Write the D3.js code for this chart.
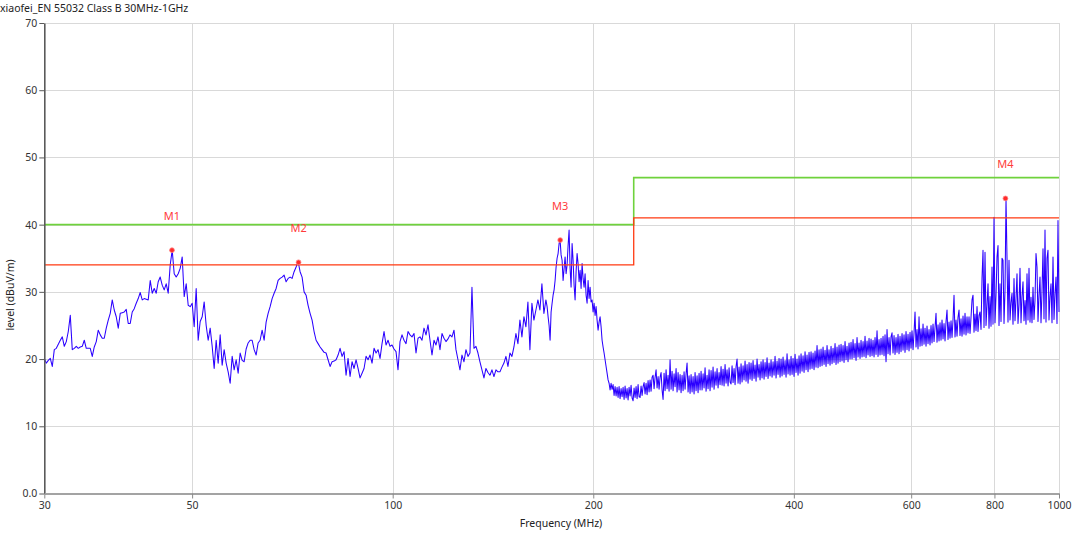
<!DOCTYPE html>
<html><head><meta charset="utf-8">
<script src="https://cdn.jsdelivr.net/npm/d3@7"></script>
<style>
html,body{margin:0;padding:0;background:#fff;}
svg{display:block;}
text{font-family:"Segoe UI","Noto Sans",sans-serif;}
</style></head><body>
<svg id="chart" width="1080" height="534"></svg>
<script>
// ---------------- data ----------------
const chartTitle = "xiaofei_EN 55032 Class B 30MHz-1GHz";
const xAxisTitle = "Frequency (MHz)";
const yAxisTitle = "level (dBuV/m)";
const xTickValues = [30, 50, 100, 200, 400, 600, 800, 1000];
const xTickLabels = ["30", "50", "100", "200", "400", "600", "800", "1000"];
const yTickValues = [0, 10, 20, 30, 40, 50, 60, 70];
const yTickLabels = ["0.0", "10", "20", "30", "40", "50", "60", "70"];

// limit line (EN 55032 Class B, QP) and margin line
const limitFreq = [30, 230, 230, 1000];
const limitLevel = [40, 40, 47, 47];
const marginFreq = [30, 230, 230, 1000];
const marginLevel = [34, 34, 41, 41];

// markers
const markerNames = ["M1", "M2", "M3", "M4"];
const markerFreq = [46.64, 72.23, 178.4, 831.0];
const markerLevel = [36.2, 34.4, 37.7, 43.9];

// measured trace, first sweep part (log spaced points)
const sweepLowStart = 30, sweepLowStop = 169.8;
const levelsLow = [
20.1,19.4,19.8,20.1,18.9,21.4,21.6,22.2,22.8,23.3,
21.9,22.6,24.1,26.5,21.4,21.6,21.9,21.6,21.8,21.9,
22.8,21.6,21.6,21.6,20.4,21.8,22.6,24.3,23.6,23.1,
23.1,24.6,25.8,26.8,28.8,27.3,26.3,24.6,26.8,26.9,
27.0,27.4,25.3,25.3,27.0,27.5,28.3,29.0,29.9,28.8,
29.0,28.9,28.8,31.7,29.8,30.5,29.8,31.5,32.2,31.0,
30.3,31.2,29.8,34.0,36.2,32.7,32.2,32.7,33.5,35.2,
29.3,31.2,28.0,27.8,28.3,24.8,30.5,22.8,25.6,26.3,
28.5,25.0,22.8,24.6,21.9,18.6,22.8,19.4,23.6,19.1,
21.4,19.4,18.1,16.4,20.4,18.4,19.9,17.9,20.9,19.8,
19.6,21.5,22.4,22.8,22.8,21.4,20.6,22.4,22.8,24.3,
22.8,25.5,26.8,27.8,29.0,29.8,30.5,31.7,32.0,32.2,
32.5,31.5,32.0,32.2,32.0,33.0,33.7,34.5,33.0,32.2,
30.0,29.5,28.0,26.8,25.8,24.1,22.8,22.3,21.8,21.4,
21.0,20.9,19.9,18.9,19.6,19.7,19.9,20.6,21.6,20.4,
21.1,17.6,20.1,17.4,19.6,18.6,19.9,18.6,17.2,17.9,
18.6,20.4,19.9,20.6,19.4,21.6,20.9,21.4,20.1,22.3,
24.1,22.1,22.8,21.9,22.1,21.5,21.1,18.4,22.6,23.6,
22.8,22.3,24.1,23.6,23.3,23.8,20.9,23.1,23.3,22.8,
24.6,23.6,25.1,22.8,20.6,22.8,22.1,23.3,21.4,23.8,
23.1,22.6,23.0,23.6,23.3,24.3,21.4,19.9,18.4,20.6,
19.6,21.4,20.4,20.9,30.7,21.6,21.9,20.9,19.6,18.4,
17.2,18.6,18.0,17.6,18.4,17.4,18.4,18.1,18.1,18.8,
19.4,20.4,18.9,20.9,20.4,21.8,23.8,22.3,25.8,23.3,
26.3,24.8,28.5,21.4,28.3,25.8,27.3,28.8,27.3,31.2,
26.8,28.8
];

// measured trace, second sweep part (denser log spaced points)
const sweepHighStart = 170.5, sweepHighStop = 1000;
const levelsHigh = [
27.8,26.3,25.0,22.8,27.0,28.3,29.5,30.3,31.7,33.7,
35.0,35.7,37.2,37.7,35.5,34.7,31.7,33.5,35.2,32.7,
34.0,36.9,39.2,33.5,30.7,37.2,34.7,31.0,28.8,33.0,
35.7,34.2,31.5,33.2,30.5,34.2,32.0,30.7,32.7,29.5,
28.3,31.7,29.0,30.7,28.5,28.8,27.0,28.3,26.5,27.8,
25.8,24.3,25.5,26.3,24.8,22.8,21.8,20.9,19.9,18.9,
17.9,16.9,16.4,15.4,16.4,15.5,16.2,14.6,15.9,14.5,
15.8,14.3,15.9,14.1,15.6,14.4,15.8,14.0,16.0,14.2,
15.6,13.9,15.8,14.5,16.1,14.2,13.8,15.7,14.3,15.9,
14.1,16.2,14.4,14.3,16.0,14.6,15.9,16.5,14.8,16.4,
14.7,16.8,15.1,16.9,15.2,17.3,17.6,15.6,17.3,18.4,
15.7,17.4,15.5,17.3,
18.0,15.4,14.0,17.9,15.3,18.4,15.6,17.6,15.2,19.9,
15.5,18.2,15.3,17.8,15.9,18.6,15.1,18.0,15.4,17.7,
15.0,17.6,15.3,18.1,15.5,17.8,19.4,15.1,17.5,14.9,
17.7,15.1,17.4,14.8,18.0,15.3,17.5,15.0,17.9,15.4,
18.2,15.4,17.8,15.7,18.7,15.2,17.6,15.6,18.4,15.3,
18.3,15.8,18.8,15.5,18.1,16.1,18.6,15.7,18.0,16.2,
18.9,16.1,18.5,16.0,19.2,16.4,18.4,16.0,18.7,16.6,
16.3,19.0,16.5,18.6,16.2,18.9,20.0,16.4,18.8,16.3,
19.3,16.6,19.0,16.9,19.7,16.7,19.2,16.4,19.5,17.0,
19.4,16.8,19.8,17.1,19.1,16.7,20.0,17.3,19.2,16.9,
19.6,17.2,19.9,17.0,19.5,17.4,20.2,17.1,19.4,17.5,
19.9,17.3,19.6,17.6,20.4,17.2,19.7,17.7,20.1,17.3,
20.0,17.5,20.3,17.7,19.8,17.3,20.8,17.8,19.9,17.6,
20.4,17.7,20.1,17.4,20.7,18.0,20.0,17.6,20.5,17.9,
20.8,18.2,20.5,18.0,21.1,18.4,20.6,18.1,21.0,18.5,
21.1,18.6,20.9,18.4,21.2,18.8,22.0,18.7,21.4,18.9,
21.5,19.0,21.8,19.2,21.3,18.9,22.0,19.3,21.4,19.1,
21.9,19.3,21.6,19.5,22.3,19.2,21.8,19.4,22.1,19.6,
22.2,19.7,22.0,19.5,22.6,19.9,21.9,19.6,22.4,20.0,
22.5,20.0,22.9,20.2,22.3,19.8,23.2,20.3,22.4,20.1,
22.8,20.3,22.6,20.4,23.4,20.2,22.7,20.6,23.1,20.4,
23.0,20.5,22.8,20.3,23.2,20.7,24.2,20.4,22.9,20.6,
23.1,20.7,23.4,20.5,23.6,19.6,24.4,20.8,23.2,20.6,
23.3,23.9,20.9,23.5,20.7,23.2,21.0,23.7,20.8,23.4,
21.1,23.8,21.3,23.6,21.0,24.1,21.4,23.7,21.2,24.0,
21.6,24.2,21.4,23.9,27.0,21.8,24.4,21.5,26.3,21.9,
24.5,22.0,25.2,22.2,24.6,21.9,24.9,22.3,24.4,22.1,
25.0,22.4,25.2,22.6,24.7,26.8,22.5,25.1,22.7,25.4,
22.8,25.8,23.0,25.3,22.7,25.6,27.3,22.9,25.5,23.1,
25.7,23.2,25.9,29.5,23.3,25.8,23.4,26.2,27.3,23.5,
26.0,23.4,26.4,23.7,26.8,23.6,26.3,23.9,26.3,23.8,
26.2,28.8,29.5,24.0,26.7,24.2,27.8,24.1,26.5,27.0,
24.4,32.0,36.2,24.7,35.9,25.0,28.0,31.2,24.6,29.3,
24.9,33.7,25.2,41.1,25.4,29.5,35.2,36.9,25.0,31.2,
25.6,35.0,34.7,25.3,30.2,43.9,35.0,25.5,34.7,25.8,
28.4,29.8,25.2,32.0,25.7,29.0,32.7,25.3,28.1,33.5,
25.4,29.3,31.5,25.7,28.7,25.2,32.7,25.8,33.5,25.5,
29.2,25.4,30.7,25.9,28.8,35.7,33.7,25.6,29.5,32.2,
25.4,30.1,36.4,26.0,39.2,25.5,35.0,36.2,25.8,29.3,
31.2,25.4,35.2,25.9,29.6,32.2,25.3,40.6,27.0
];

// ---------------- drawing ----------------
const plotLeft = 44.3, plotRight = 1059, plotTop = 23, plotBottom = 493.5;
const svg = d3.select("#chart");

const x = d3.scaleLog().domain([30, 1000]).range([plotLeft, plotRight]);
const y = d3.scaleLinear().domain([0, 70]).range([plotBottom, plotTop]);

function sweep(start, stop, levels) {
  const n = levels.length;
  return levels.map((l, i) => ({ f: start * Math.pow(stop / start, i / (n - 1)), l }));
}
const trace = sweep(sweepLowStart, sweepLowStop, levelsLow)
  .concat(sweep(sweepHighStart, sweepHighStop, levelsHigh));

// grid
const grid = svg.append("g").attr("class", "grid");
grid.selectAll("line.h").data(yTickValues.filter(d => d > 0)).join("line")
  .attr("class", "h")
  .attr("x1", plotLeft).attr("x2", plotRight)
  .attr("y1", d => Math.round(y(d)) + 0.5).attr("y2", d => Math.round(y(d)) + 0.5)
  .attr("stroke", "#d9d9d9").attr("stroke-width", 1);
grid.selectAll("line.v").data(xTickValues.filter(d => d > 30)).join("line")
  .attr("class", "v")
  .attr("x1", d => Math.round(x(d)) + 0.5).attr("x2", d => Math.round(x(d)) + 0.5)
  .attr("y1", plotTop).attr("y2", plotBottom)
  .attr("stroke", "#d9d9d9").attr("stroke-width", 1);

// trace
const line = d3.line().x(d => x(d.f)).y(d => y(d.l));
svg.append("path").datum(trace)
  .attr("d", line)
  .attr("fill", "none")
  .attr("stroke", "#2a00ff")
  .attr("stroke-width", 1.05)
  .attr("stroke-linejoin", "round");

// limit + margin lines
const stepLine = d3.line().x(d => x(d[0])).y(d => y(d[1]));
svg.append("path").datum(limitFreq.map((f, i) => [f, limitLevel[i]]))
  .attr("d", stepLine).attr("fill", "none")
  .attr("stroke", "#6fd23c").attr("stroke-width", 1.6);
svg.append("path").datum(marginFreq.map((f, i) => [f, marginLevel[i]]))
  .attr("d", stepLine).attr("fill", "none")
  .attr("stroke", "#ff3a12").attr("stroke-width", 1.3);

// markers
const markers = markerNames.map((n, i) => ({ n, f: markerFreq[i], l: markerLevel[i] }));
svg.append("g").selectAll("circle").data(markers).join("circle")
  .attr("cx", d => x(d.f)).attr("cy", d => y(d.l)).attr("r", 2.4)
  .attr("fill", "#ff2b2b").attr("stroke", "#ff8080").attr("stroke-width", 0.8);
svg.append("g").selectAll("text").data(markers).join("text")
  .attr("x", d => x(d.f)).attr("y", d => y(d.l) - 30)
  .attr("text-anchor", "middle")
  .attr("font-size", "11px")
  .attr("fill", "#ff3b3b")
  .text(d => d.n);

// axes
const yAxis = d3.axisLeft(y).tickValues(yTickValues)
  .tickFormat((d, i) => yTickLabels[i]).tickSize(5).tickSizeOuter(0).tickPadding(2);
const gy = svg.append("g").attr("transform", `translate(${plotLeft},0)`).call(yAxis);
gy.select(".domain").attr("stroke", "#5a5a5a").attr("stroke-width", 1.6);
gy.selectAll(".tick line").attr("stroke", "#5a5a5a");
gy.selectAll(".tick text").attr("fill", "#333").attr("font-size", "10.5px")
  .attr("font-family", "'Segoe UI','Noto Sans',sans-serif");

const xAxis = d3.axisBottom(x).tickValues(xTickValues)
  .tickFormat((d, i) => xTickLabels[i]).tickSize(5).tickSizeOuter(0).tickPadding(3);
const gx = svg.append("g").attr("transform", `translate(0,${plotBottom})`).call(xAxis);
gx.select(".domain").attr("stroke", "#a3a3a3").attr("stroke-width", 2);
gx.selectAll(".tick line").attr("stroke", "#8a8a8a");
gx.selectAll(".tick text").attr("fill", "#333").attr("font-size", "10.5px")
  .attr("font-family", "'Segoe UI','Noto Sans',sans-serif");

// titles
svg.append("text").attr("x", 0).attr("y", 12)
  .attr("font-size", "10.5px").attr("fill", "#222").text(chartTitle);
svg.append("text").attr("x", 561).attr("y", 527)
  .attr("text-anchor", "middle").attr("font-size", "10.5px").attr("fill", "#222")
  .text(xAxisTitle);
svg.append("text")
  .attr("transform", "translate(14,295) rotate(-90)")
  .attr("text-anchor", "middle").attr("font-size", "10.5px").attr("fill", "#222")
  .text(yAxisTitle);
</script>
</body></html>
